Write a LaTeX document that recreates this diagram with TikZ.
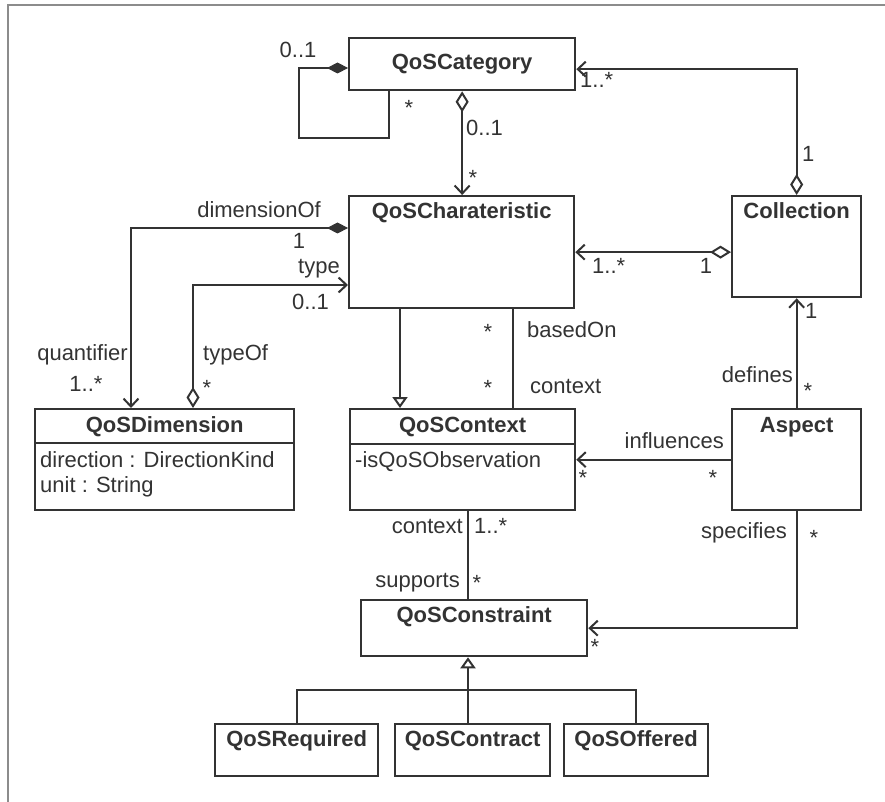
\documentclass[tikz,border=0pt]{standalone}
\usepackage{fontspec}
\setmainfont{Liberation Sans}
\usetikzlibrary{arrows.meta,calc}
\definecolor{ink}{HTML}{333333}
\definecolor{framegray}{HTML}{8C8C8C}

\begin{document}
\begin{tikzpicture}[x=1pt,y=-1pt,
  cls/.style={draw=ink, line width=2.3pt, fill=white, inner sep=0pt, anchor=north west},
  title/.style={font=\fontsize{22}{26}\selectfont\bfseries, text=ink, inner sep=0pt, text height=16pt, text depth=5pt},
  lbl/.style={font=\fontsize{22}{26}\selectfont, text=ink, inner sep=0pt, text height=16pt, text depth=5pt},
  star/.style={lbl, yshift=-7pt},
  conn/.style={draw=ink, line width=2.2pt},
  barb/.tip={Straight Barb[length=8pt,width=15pt,line width=2pt]},
  odia/.tip={Diamond[fill=white,length=21pt,width=13pt,line width=2pt]},
  fdia/.tip={Diamond[fill=ink,length=21pt,width=11pt,line width=1pt]},
  otri/.tip={Triangle[fill=white,length=11pt,width=15pt,line width=2pt]},
]
\useasboundingbox (0,0) rectangle (885,802);
% outer frame (left and top edges)
\draw[framegray, line width=2.5pt] (8,802) -- (8,5) -- (885,5);

% classes
\node[cls, minimum width=226pt, minimum height=52pt]  (cat) at (348,37)  {};
\node[cls, minimum width=225pt, minimum height=112pt] (chr) at (348,195) {};
\node[cls, minimum width=129pt, minimum height=101pt] (col) at (731,195) {};
\node[cls, minimum width=259pt, minimum height=101pt] (dim) at (34,408)  {};
\node[cls, minimum width=225pt, minimum height=101pt] (ctx) at (349,408) {};
\node[cls, minimum width=129pt, minimum height=101pt] (asp) at (731,408) {};
\node[cls, minimum width=226pt, minimum height=56pt]  (con) at (360,599) {};
\node[cls, minimum width=163pt, minimum height=52pt]  (req) at (214,723) {};
\node[cls, minimum width=155pt, minimum height=52pt]  (ctr) at (394,723) {};
\node[cls, minimum width=144pt, minimum height=52pt]  (off) at (563,723) {};

% class names
\node[title] (catT) at (cat.center) {QoSCategory};
\node[title] (chrT) at ([yshift=-18pt]chr.north) {QoSCharateristic};
\node[title] (colT) at ([yshift=-18pt]col.north) {Collection};
\node[title] (dimT) at ([yshift=-19pt]dim.north) {QoSDimension};
\node[title] (ctxT) at ([yshift=-19pt]ctx.north) {QoSContext};
\node[title] (aspT) at ([yshift=-19pt]asp.north) {Aspect};
\node[title] (conT) at ([yshift=-18pt]con.north) {QoSConstraint};
\node[title] (reqT) at ([yshift=-18pt]req.north) {QoSRequired};
\node[title] (ctrT) at ([yshift=-18pt]ctr.north) {QoSContract};
\node[title] (offT) at ([yshift=-18pt]off.north) {QoSOffered};

% attribute compartments
\draw[conn] ([yshift=-35pt]dim.north west) -- ([yshift=-35pt]dim.north east);
\draw[conn] ([yshift=-36pt]ctx.north west) -- ([yshift=-36pt]ctx.north east);
\node[lbl, anchor=west] (dimA1) at ([shift={(6pt,-54pt)}]dim.north west) {direction : DirectionKind};
\node[lbl, anchor=west] (dimA2) at ([shift={(6pt,-79pt)}]dim.north west) {unit : String};
\node[lbl, anchor=west] (ctxA1) at ([shift={(6pt,-54pt)}]ctx.north west) {-isQoSObservation};

% self composition of QoSCategory
\coordinate (loopc) at (299,138);
\draw[conn, -fdia] ([xshift=41pt]cat.south west) |- (loopc) |- ([yshift=-31pt]cat.north west);

% QoSCategory -> QoSCharateristic
\draw[conn, odia-barb] (cat.south) -- (cat.south |- chr.north);

% Collection -> QoSCategory
\draw[conn, odia-barb] (col.north) |- ([yshift=-5pt]cat.east);

% Collection -> QoSCharateristic
\draw[conn, odia-barb] (col.west |- chr.east) -- (chr.east);

% Aspect -> Collection
\draw[conn, -barb] (asp.north) -- (col.south);

% Aspect -> QoSContext
\draw[conn, -barb] (asp.west) -- (ctx.east);

% QoSCharateristic specialises QoSContext, and basedOn association
\coordinate (g1) at ([xshift=52pt]chr.south west);
\draw[conn, -otri] (g1) -- (g1 |- ctx.north);
\coordinate (b1) at ([xshift=165pt]chr.south west);
\draw[conn] (b1) -- (b1 |- ctx.north);

% QoSContext -- QoSConstraint
\coordinate (c1) at ([xshift=108pt]con.north west);
\draw[conn] (c1 |- ctx.south) -- (c1);

% Aspect -> QoSConstraint
\draw[conn, -barb] (asp.south) |- (con.east);

% constraint kinds
\coordinate (bar) at ([xshift=108pt,yshift=-33pt]con.south west);
\draw[conn] (req.north) |- (bar) -| (off.north);
\draw[conn, -otri] (bar |- ctr.north) -- (bar |- con.south);

% QoSDimension associations
\draw[conn, barb-fdia] ([xshift=97pt]dim.north west) |- ([yshift=-33pt]chr.north west);
\draw[conn, odia-barb] ([xshift=159pt]dim.north west) |- ([yshift=-90pt]chr.north west);

% role names and multiplicities
\node[lbl] (m1) at (298,52) {0..1};
\node[star] (m2) at (409,103) {*};
\node[lbl, anchor=west] (m3) at (466,130) {0..1};
\node[star] (m4) at (473,173) {*};
\node[lbl, anchor=west] (m5) at (580,82) {1..*};
\node[lbl, anchor=west] (m6) at (802,156) {1};
\node[lbl, anchor=west] (m7) at (592,268) {1..*};
\node[lbl] (m8) at (706,268) {1};
\node[lbl, anchor=west] (m9) at (805,313) {1};
\node[lbl, anchor=east] (r1) at (793,377) {defines};
\node[star] (m10) at (808,386) {*};
\node[lbl, anchor=east] (r2) at (321,212) {dimensionOf};
\node[lbl] (m11) at (299,243) {1};
\node[lbl, anchor=east] (r3) at (340,268) {type};
\node[lbl, anchor=west] (m12) at (292,304) {0..1};
\node[lbl, anchor=east] (r4) at (128,355) {quantifier};
\node[lbl] (m13) at (86,386) {1..*};
\node[lbl, anchor=west] (r5) at (203,355) {typeOf};
\node[star] (m14) at (207,383) {*};
\node[star] (m15) at (488,327) {*};
\node[star] (m16) at (488,383) {*};
\node[lbl, anchor=west] (r6) at (527,332) {basedOn};
\node[lbl, anchor=west] (r7) at (530,388) {context};
\node[lbl, anchor=east] (r8) at (724,443) {influences};
\node[star] (m17) at (713,473) {*};
\node[star] (m18) at (583,473) {*};
\node[lbl, anchor=east] (r9) at (463,528) {context};
\node[lbl, anchor=west] (m19) at (474,528) {1..*};
\node[lbl, anchor=east] (r10) at (460,582) {supports};
\node[star] (m20) at (477,578) {*};
\node[lbl, anchor=east] (r11) at (787,533) {specifies};
\node[star] (m21) at (814,533) {*};
\node[star] (m22) at (595,642) {*};
\end{tikzpicture}
\end{document}
